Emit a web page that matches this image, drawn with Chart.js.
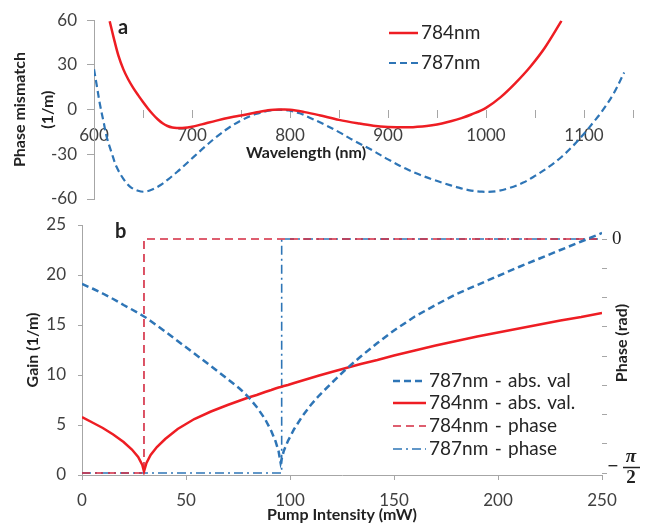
<!DOCTYPE html>
<html>
<head>
<meta charset="utf-8">
<script src="https://cdn.jsdelivr.net/npm/chart.js@4"></script>
<style>
  html, body { margin: 0; padding: 0; background: #fff; }
  #wrap { position: relative; width: 646px; height: 525px; }
  #wrap canvas { position: absolute; left: 0; top: 0; }
</style>
</head>
<body>
<div id="wrap">
  <canvas id="mismatch" width="646" height="525"></canvas>
  <canvas id="gain" width="646" height="525"></canvas>
</div>
<script>
// ---- panel a : phase mismatch vs wavelength ----
const wl784 = [616, 620, 625, 630, 635, 640, 645, 650, 655, 660, 665, 670, 675, 680, 685, 690, 700, 710, 725, 740, 750, 765, 780, 790, 800, 815, 830, 850, 870, 885, 900, 918, 935, 945, 955, 965, 975, 985, 1000, 1015, 1030, 1045, 1060, 1077];
const mis784 = [59.3, 48.5, 36, 27, 20.2, 14.6, 9.7, 5.1, 0.8, -3.1, -6.5, -9.2, -11.0, -12, -12.3, -12.3, -11.5, -9.9, -7.4, -5.2, -4, -2, -0.3, 0, -0.1, -1.7, -3.8, -6.9, -9.3, -10.8, -11.6, -11.9, -11.3, -10.5, -9.3, -7.7, -5.7, -3.3, 1.2, 8.4, 17.8, 28.6, 41.5, 59.5];

const wl787 = [600, 603, 606, 610, 613, 618, 623, 630, 637, 645, 652, 660, 668, 676, 685, 693, 702, 713, 726, 738, 751, 765, 780, 790, 799, 810, 819, 835, 850, 867, 884, 900, 918, 932, 946, 958, 970, 982, 996, 1010, 1024, 1038, 1050, 1064, 1077, 1090, 1100, 1110, 1118, 1130, 1141];
const mis787 = [27.1, 15.5, 3.8, -9, -18.4, -29, -38.4, -46.5, -51.8, -54.5, -55.1, -53.5, -50.6, -46.6, -41.7, -37, -31.6, -25, -17.8, -12, -7, -3, -0.6, -0.2, -0.6, -2.5, -5.1, -10, -15.1, -21.5, -27.3, -33.4, -39.6, -43.6, -47, -49.6, -52, -54, -55.1, -54.8, -52.6, -49, -44.5, -38.5, -31.8, -23.5, -16.2, -8.2, -1.5, 10.5, 24.9];

// ---- panel b : gain and phase vs pump intensity ----
const pump = [0, 5, 10, 15, 20, 24, 27, 29, 29.8, 31, 33, 36, 40, 46, 54, 62, 70, 76, 80, 84, 88, 91, 93, 94.5, 95.5, 97, 99, 102, 106, 110, 114, 120, 127, 134, 142, 150, 160, 170, 180, 190, 200, 210, 220, 230, 240, 250];
const gain787 = [19.1, 18.65, 18.15, 17.6, 17.0, 16.55, 16.2, 15.95, 15.85, 15.7, 15.4, 14.95, 14.35, 13.4, 12.15, 10.9, 9.6, 8.6, 7.8, 6.8, 5.6, 4.4, 3.4, 2.4, 1.2, 2.4, 3.4, 4.6, 5.9, 7.0, 7.95, 9.2, 10.6, 11.85, 13.2, 14.45, 15.85, 17.0, 18.1, 19.0, 19.9, 20.8, 21.65, 22.5, 23.35, 24.2];
const gain784 = [5.8, 5.25, 4.7, 4.05, 3.3, 2.55, 1.8, 1.0, 0.35, 1.2, 2.0, 2.8, 3.6, 4.6, 5.6, 6.35, 7.0, 7.45, 7.75, 8.0, 8.3, 8.5, 8.65, 8.75, 8.8, 8.9, 9.0, 9.2, 9.45, 9.7, 9.95, 10.3, 10.7, 11.1, 11.5, 11.95, 12.45, 12.95, 13.4, 13.85, 14.25, 14.65, 15.05, 15.45, 15.8, 16.2];

const phase784X = [0, 29.8, 29.8, 250];
const phase784 = [-Math.PI / 2, -Math.PI / 2, 0, 0];
const phase787X = [0, 96, 96, 250];
const phase787 = [-Math.PI / 2, -Math.PI / 2, 0, 0];

const RED = '#ee1d23';
const BLUE = '#2e75b6';
const CRIMSON = '#d42a40';
const AXIS = '#a6a6a6';

Chart.defaults.font.family = 'Lato';
Chart.defaults.color = '#404040';
Chart.defaults.animation = false;

function pts(xs, ys) {
    return xs.map((x, i) => ({x: x, y: ys[i]}));
}

function drawLegend(chart, x0, x1, ys, font, spacing) {
    const ctx = chart.ctx;
    ctx.save();
    ctx.wordSpacing = spacing || '0px';
    chart.data.datasets.forEach((ds, k) => {
        ctx.strokeStyle = ds.borderColor;
        ctx.lineWidth = ds.borderWidth;
        ctx.setLineDash(ds.borderDash || []);
        ctx.beginPath();
        ctx.moveTo(x0, ys[k]);
        ctx.lineTo(x1, ys[k]);
        ctx.stroke();
        ctx.setLineDash([]);
        ctx.fillStyle = '#262626';
        ctx.font = font;
        ctx.textBaseline = 'middle';
        ctx.fillText(ds.label, x1 + 3, ys[k]);
    });
    ctx.restore();
}

/* Panel a */
new Chart(document.getElementById('mismatch'), {
    type: 'line',
    data: {
        datasets: [
            {label: '784nm', data: pts(wl784, mis784), borderColor: RED, borderWidth: 2.5, pointRadius: 0, tension: 0.35},
            {label: '787nm', data: pts(wl787, mis787), borderColor: BLUE, borderWidth: 2.2, borderDash: [7, 4], pointRadius: 0, tension: 0.35}
        ]
    },
    options: {
        responsive: false,
        layout: {padding: {top: 19, right: 13, bottom: 326, left: 0}},
        plugins: {legend: {display: false}, tooltip: {enabled: false}},
        scales: {
            x: {
                type: 'linear', min: 600, max: 1150, position: {y: 0},
                border: {display: false},
                grid: {drawOnChartArea: false, color: AXIS, tickLength: 8},
                ticks: {stepSize: 50, autoSkip: false, maxRotation: 0, padding: 8, font: {size: 17},
                        callback: v => (v % 100 === 0 && v < 1150) ? v : ''}
            },
            y: {
                min: -60, max: 60,
                border: {color: AXIS},
                grid: {drawOnChartArea: false, color: AXIS, tickLength: 7},
                ticks: {stepSize: 30, padding: 10, font: {size: 17}},
                title: {display: true, text: ['Phase mismatch', '(1/m)'], font: {size: 16, weight: 'bold', lineHeight: 1.75}, color: '#222', padding: {top: 6, bottom: 0}},
                afterFit: s => { s.width = 94; }
            }
        }
    },
    plugins: [{
        id: 'panelA',
        afterDraw(chart) {
            const ctx = chart.ctx;
            ctx.save();
            ctx.fillStyle = '#222';
            ctx.font = 'bold 20px Lato';
            ctx.textBaseline = 'middle';
            ctx.fillText('a', 118, 28);
            ctx.font = 'bold 16px Lato';
            ctx.textAlign = 'center';
            ctx.fillText('Wavelength (nm)', 306, 153);
            ctx.restore();
            drawLegend(chart, 389, 418, [33, 63], '19px Lato');
        }
    }]
});

/* Panel b */
new Chart(document.getElementById('gain'), {
    type: 'line',
    data: {
        datasets: [
            {label: '787nm - abs. val', data: pts(pump, gain787), borderColor: BLUE, borderWidth: 2.5, borderDash: [7, 4], pointRadius: 0, yAxisID: 'y'},
            {label: '784nm - abs. val.', data: pts(pump, gain784), borderColor: RED, borderWidth: 2.5, pointRadius: 0, yAxisID: 'y'},
            {label: '784nm - phase', data: pts(phase784X, phase784), borderColor: CRIMSON, borderWidth: 1.6, borderDash: [8, 5], pointRadius: 0, yAxisID: 'y2'},
            {label: '787nm - phase', data: pts(phase787X, phase787), borderColor: BLUE, borderWidth: 1.6, borderDash: [9, 4, 2, 4], pointRadius: 0, yAxisID: 'y2'}
        ]
    },
    options: {
        responsive: false,
        layout: {padding: {top: 225, right: 0, bottom: 0, left: 0}},
        plugins: {legend: {display: false}, tooltip: {enabled: false}},
        scales: {
            x: {
                type: 'linear', min: 0, max: 250,
                border: {color: AXIS},
                grid: {drawOnChartArea: false, color: AXIS, tickLength: 5},
                ticks: {stepSize: 50, maxRotation: 0, padding: 10, font: {size: 17}},
                title: {display: true, text: 'Pump Intensity (mW)', font: {size: 16, weight: 'bold'}, color: '#222', padding: {top: 0, bottom: 1}},
                afterFit: s => { s.height = 50; }
            },
            y: {
                position: 'left', min: 0, max: 25,
                border: {color: AXIS},
                grid: {drawOnChartArea: false, color: AXIS, tickLength: 4},
                ticks: {stepSize: 5, padding: 12, font: {size: 17}},
                title: {display: true, text: 'Gain (1/m)', font: {size: 16, weight: 'bold'}, color: '#222', padding: {top: 23, bottom: 0}},
                afterFit: s => { s.width = 82; }
            },
            y2: {
                position: 'right', min: -1.5842, max: 0.0940,
                border: {display: false},
                grid: {drawOnChartArea: false, color: AXIS, tickLength: 5},
                afterBuildTicks: s => { s.ticks = [-8, -7, -6, -5, -4, -3, -2, -1, 0].map(k => ({value: k * Math.PI / 16})); },
                ticks: {padding: 5, font: {size: 19, family: 'Liberation Serif'}, color: '#222',
                        callback: v => Math.abs(v) < 1e-9 ? '0' : ''},
                afterFit: s => { s.width = 44; }
            }
        }
    },
    plugins: [{
        id: 'panelB',
        afterDraw(chart) {
            const ctx = chart.ctx;
            ctx.save();
            ctx.fillStyle = '#222';
            ctx.textBaseline = 'middle';
            ctx.font = 'bold 20px Lato';
            ctx.fillText('b', 115, 232);
            // right axis title reads bottom to top
            ctx.save();
            ctx.translate(622, 343);
            ctx.rotate(-Math.PI / 2);
            ctx.font = 'bold 16px Lato';
            ctx.textAlign = 'center';
            ctx.fillText('Phase (rad)', 0, 0);
            ctx.restore();
            // -pi/2 label
            const yb = chart.scales.y2.getPixelForValue(-Math.PI / 2) - 6;
            ctx.textAlign = 'center';
            ctx.font = 'bold 19px Liberation Serif';
            ctx.fillText('\u2212', 613, yb);
            ctx.font = 'italic bold 19px Liberation Serif';
            ctx.fillText('\u03c0', 631, yb - 10);
            ctx.font = 'bold 19px Liberation Serif';
            ctx.fillText('2', 631, yb + 11);
            ctx.strokeStyle = '#222';
            ctx.lineWidth = 1.5;
            ctx.beginPath();
            ctx.moveTo(623, yb + 0.5);
            ctx.lineTo(640, yb + 0.5);
            ctx.stroke();
            ctx.restore();
            drawLegend(chart, 393, 426, [381, 403, 426, 449], '19px Lato', '1.5px');
        }
    }]
});
</script>
</body>
</html>
